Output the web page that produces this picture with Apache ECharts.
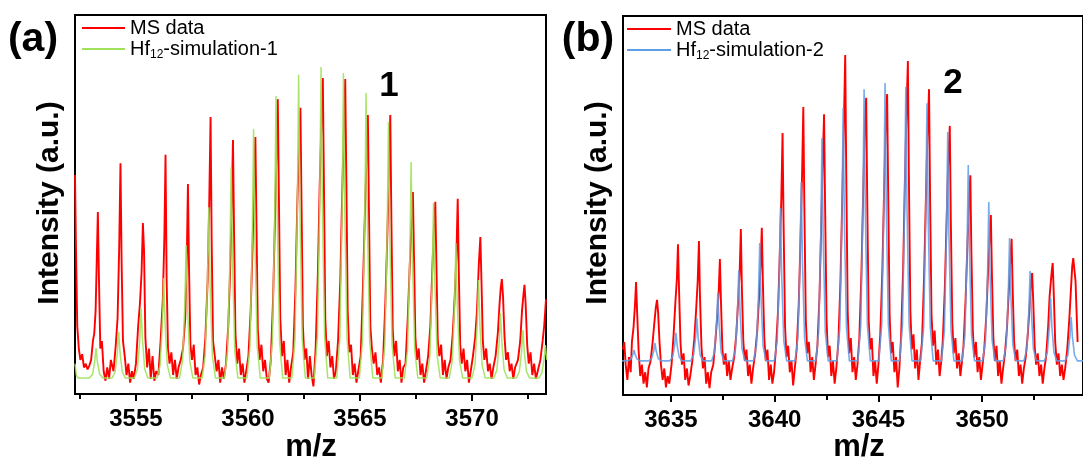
<!DOCTYPE html>
<html><head><meta charset="utf-8">
<script src="https://cdn.jsdelivr.net/npm/echarts@6/dist/echarts.min.js"></script>
<style>html,body{margin:0;padding:0;background:#fff;}#c{width:1083px;height:459px;}</style>
</head><body><div id="c"></div>
<script>
const FONT = '"Liberation Sans", Arial, sans-serif';

// ---- axis ranges and ticks (m/z) ----
const rangeA = [3552.28, 3573.30];
const rangeB = [3632.69, 3654.86];
const ticksA = [3555, 3560, 3565, 3570];
const minorA = [3552.5, 3557.5, 3562.5, 3567.5, 3572.5];
const ticksB = [3635, 3640, 3645, 3650];
const minorB = [3637.5, 3642.5, 3647.5, 3652.5];

const legendA = ['MS data', 'Hf12-simulation-1'];
const legendB = ['MS data', 'Hf12-simulation-2'];

// ---- panel (a): MS data, [m/z, intensity] ----
const msA = [
[3552.28,57.8],[3552.32,40],[3552.38,18],[3552.45,12],[3552.52,9],[3552.6,10.5],[3552.68,7],[3552.76,8],[3552.84,6.5],[3552.92,7.5],[3553.0,9],
[3553.08,14],[3553.14,16],[3553.2,22],[3553.25,35],[3553.3,48],[3553.35,30],[3553.41,12],[3553.48,14],[3553.56,6],[3553.64,3.5],[3553.72,7],[3553.8,4],[3553.88,9],
[3554.0,6],[3554.1,13],[3554.18,20],[3554.25,38],[3554.31,60.9],[3554.36,35],[3554.42,14],[3554.5,10],[3554.58,5],[3554.66,8],[3554.74,3],[3554.82,6],[3554.9,4],
[3555.0,8],[3555.1,18],[3555.18,24],[3555.25,32],[3555.31,45.1],[3555.36,38],[3555.42,15],[3555.5,7],[3555.58,12],[3555.66,4],[3555.74,10],[3555.82,3.5],[3555.9,6],
[3556.0,5],[3556.1,14],[3556.2,25],[3556.27,42],[3556.32,63.1],[3556.37,30],[3556.43,12],[3556.5,8],[3556.58,11],[3556.66,5],[3556.74,9],[3556.82,4],[3556.9,7],
[3557.0,9],[3557.1,12],[3557.2,20],[3557.27,36],[3557.32,55.4],[3557.37,33],[3557.43,13],[3557.5,9],[3557.58,13],[3557.66,5],[3557.74,7],[3557.82,2.5],[3557.9,5],
[3558.0,7],[3558.1,15],[3558.2,30],[3558.27,50],[3558.33,73.1],[3558.38,40],[3558.44,14],[3558.52,10],[3558.6,6],[3558.68,9],[3558.76,3],[3558.84,7],[3558.92,4],
[3559.02,8],[3559.12,18],[3559.2,32],[3559.27,48],[3559.33,67],[3559.38,42],[3559.44,16],[3559.52,8],[3559.6,12],[3559.68,5],[3559.76,8],[3559.84,3],[3559.92,6],
[3560.02,10],[3560.12,22],[3560.2,38],[3560.27,55],[3560.33,67.8],[3560.38,44],[3560.44,17],[3560.52,9],[3560.6,13],[3560.68,6],[3560.76,9],[3560.84,4],[3560.92,3],
[3561.02,9],[3561.12,25],[3561.2,45],[3561.27,62],[3561.33,77.8],[3561.38,52],[3561.44,20],[3561.52,10],[3561.6,14],[3561.68,5],[3561.76,9],[3561.84,3],[3561.92,7],
[3562.02,11],[3562.12,28],[3562.2,50],[3562.28,66],[3562.34,75.5],[3562.39,50],[3562.45,18],[3562.52,9],[3562.6,12],[3562.68,4],[3562.76,10],[3562.84,5],[3562.92,2],
[3563.02,12],[3563.12,32],[3563.2,55],[3563.28,72],[3563.34,83.4],[3563.39,55],[3563.45,20],[3563.52,10],[3563.6,14],[3563.68,7],[3563.76,10],[3563.84,4],[3563.92,6],
[3564.02,14],[3564.12,30],[3564.2,52],[3564.28,70],[3564.34,83.1],[3564.39,56],[3564.45,22],[3564.52,11],[3564.6,13],[3564.68,5],[3564.76,8],[3564.84,3],[3564.92,6],
[3565.03,10],[3565.13,28],[3565.21,46],[3565.29,62],[3565.35,73.6],[3565.4,48],[3565.46,18],[3565.53,12],[3565.61,8],[3565.69,11],[3565.77,5],[3565.85,7],[3565.93,3],
[3566.03,9],[3566.13,24],[3566.21,40],[3566.29,58],[3566.35,73.6],[3566.4,46],[3566.46,17],[3566.53,10],[3566.61,14],[3566.69,6],[3566.77,9],[3566.85,3],[3566.93,7],
[3567.03,8],[3567.13,20],[3567.22,34],[3567.3,45],[3567.36,53.3],[3567.41,36],[3567.47,15],[3567.54,9],[3567.62,12],[3567.7,5],[3567.78,8],[3567.86,3],[3567.94,6],
[3568.04,10],[3568.14,18],[3568.22,32],[3568.3,44],[3568.36,50.7],[3568.41,34],[3568.47,14],[3568.54,10],[3568.62,13],[3568.7,5],[3568.78,9],[3568.86,4],[3568.94,7],
[3569.04,9],[3569.14,16],[3569.22,25],[3569.3,36],[3569.36,51.5],[3569.41,32],[3569.47,13],[3569.54,8],[3569.62,12],[3569.7,6],[3569.78,9],[3569.86,3],[3569.94,6],
[3570.04,10],[3570.14,15],[3570.22,22],[3570.3,34],[3570.37,41.4],[3570.42,30],[3570.48,14],[3570.55,9],[3570.63,12],[3570.71,6],[3570.79,8],[3570.87,4],[3570.95,7],
[3571.05,10],[3571.15,16],[3571.23,24],[3571.28,28],[3571.33,30.3],[3571.38,26],[3571.45,15],[3571.52,9],[3571.6,11],[3571.68,6],[3571.76,8],[3571.84,4],[3571.92,7],
[3572.05,9],[3572.15,14],[3572.23,22],[3572.29,26],[3572.34,28.8],[3572.39,24],[3572.46,13],[3572.53,8],[3572.61,11],[3572.69,5],[3572.77,8],[3572.85,4],[3572.93,6],
[3573.05,9],[3573.15,14],[3573.22,18],[3573.3,25]
];

// ---- panel (a): simulation 1 ----
const simA = [
[3552.28,8],[3552.34,5],[3552.42,4.2],
[3552.92,4.2],[3553.06,5.2],[3553.16,8.5],[3553.22,12.1],[3553.28,8.5],[3553.38,5.2],[3553.52,4.2],
[3553.93,4.2],[3554.07,5.8],[3554.17,10.9],[3554.23,16.4],[3554.29,10.9],[3554.39,5.8],[3554.53,4.2],
[3554.93,4.2],[3555.07,6.6],[3555.17,14.4],[3555.23,22.7],[3555.29,14.4],[3555.39,6.6],[3555.53,4.2],
[3555.94,4.2],[3556.08,7.6],[3556.18,18.7],[3556.24,30.6],[3556.3,18.7],[3556.4,7.6],[3556.54,4.2],
[3556.94,4.2],[3557.08,8.8],[3557.18,23.5],[3557.24,39.3],[3557.3,23.5],[3557.4,8.8],[3557.54,4.2],
[3557.95,4.2],[3558.09,10.1],[3558.19,29],[3558.25,49.3],[3558.31,29],[3558.41,10.1],[3558.55,4.2],
[3558.95,4.2],[3559.09,11.4],[3559.19,34.8],[3559.25,59.9],[3559.31,34.8],[3559.41,11.4],[3559.55,4.2],
[3559.95,4.2],[3560.09,12.7],[3560.19,40.3],[3560.25,69.9],[3560.31,40.3],[3560.41,12.7],[3560.55,4.2],
[3560.95,4.2],[3561.09,13.9],[3561.19,45.1],[3561.25,78.6],[3561.31,45.1],[3561.41,13.9],[3561.55,4.2],
[3561.96,4.2],[3562.1,14.6],[3562.2,48.2],[3562.26,84.2],[3562.32,48.2],[3562.42,14.6],[3562.56,4.2],
[3562.96,4.2],[3563.1,14.9],[3563.2,49.4],[3563.26,86.3],[3563.32,49.4],[3563.42,14.9],[3563.56,4.2],
[3563.96,4.2],[3564.1,14.7],[3564.2,48.5],[3564.26,84.7],[3564.32,48.5],[3564.42,14.7],[3564.56,4.2],
[3564.97,4.2],[3565.11,14],[3565.21,45.6],[3565.27,79.4],[3565.33,45.6],[3565.43,14],[3565.57,4.2],
[3565.97,4.2],[3566.11,13],[3566.21,41.4],[3566.27,71.8],[3566.33,41.4],[3566.43,13],[3566.57,4.2],
[3566.98,4.2],[3567.12,11.6],[3567.22,35.6],[3567.28,61.2],[3567.34,35.6],[3567.44,11.6],[3567.58,4.2],
[3567.98,4.2],[3568.12,10.2],[3568.22,29.6],[3568.28,50.4],[3568.34,29.6],[3568.44,10.2],[3568.58,4.2],
[3568.98,4.2],[3569.12,8.8],[3569.22,23.8],[3569.28,39.8],[3569.34,23.8],[3569.44,8.8],[3569.58,4.2],
[3569.99,4.2],[3570.13,7.6],[3570.23,18.4],[3570.29,30.1],[3570.35,18.4],[3570.45,7.6],[3570.59,4.2],
[3570.97,4.2],[3571.11,6.4],[3571.21,13.7],[3571.27,21.4],[3571.33,13.7],[3571.43,6.4],[3571.57,4.2],
[3571.97,4.2],[3572.11,5.9],[3572.21,11.2],[3572.27,16.9],[3572.33,11.2],[3572.43,5.9],[3572.57,4.2],
[3572.97,4.2],[3573.11,5.4],[3573.21,9],[3573.27,12.9],[3573.33,9]
];

// ---- panel (b): MS data ----
const msB = [
[3632.69,12],[3632.75,14],[3632.82,8],[3632.9,4],[3632.98,10],[3633.06,6],[3633.12,14],[3633.2,18],[3633.27,24],[3633.32,29.8],[3633.37,22],[3633.44,12],[3633.52,5],[3633.6,8],[3633.68,3],[3633.76,6],[3633.84,2],[3633.92,7],
[3634.02,9],[3634.12,14],[3634.2,19],[3634.27,23],[3634.33,25.1],[3634.38,22],[3634.45,14],[3634.52,8],[3634.6,4],[3634.68,7],[3634.76,2],[3634.84,5],[3634.92,3],
[3635.03,8],[3635.13,16],[3635.21,24],[3635.29,31],[3635.34,39.8],[3635.39,28],[3635.46,14],[3635.53,8],[3635.61,11],[3635.69,4],[3635.77,7],[3635.85,2.5],[3635.93,5],
[3636.03,9],[3636.13,15],[3636.21,22],[3636.29,30],[3636.35,40.6],[3636.4,26],[3636.47,13],[3636.54,7],[3636.62,10],[3636.7,3],[3636.78,6],[3636.86,1.8],[3636.94,6],
[3637.04,8],[3637.14,14],[3637.22,20],[3637.3,27],[3637.36,35.9],[3637.41,25],[3637.48,12],[3637.55,8],[3637.63,11],[3637.71,5],[3637.79,9],[3637.87,4],[3637.95,7],
[3638.05,10],[3638.15,16],[3638.23,24],[3638.31,32],[3638.37,43.8],[3638.42,28],[3638.49,14],[3638.56,9],[3638.64,12],[3638.72,5],[3638.8,8],[3638.88,3],[3638.96,7],
[3639.06,11],[3639.16,17],[3639.24,25],[3639.32,34],[3639.38,44.1],[3639.43,30],[3639.5,15],[3639.57,9],[3639.65,12],[3639.73,4],[3639.81,8],[3639.89,3],[3639.97,6],
[3640.06,12],[3640.16,22],[3640.24,36],[3640.32,52],[3640.38,69.1],[3640.43,45],[3640.5,18],[3640.57,10],[3640.65,13],[3640.73,6],[3640.81,9],[3640.89,2.5],[3640.97,7],
[3641.06,12],[3641.16,24],[3641.24,40],[3641.32,58],[3641.38,76],[3641.43,50],[3641.5,20],[3641.57,11],[3641.65,14],[3641.73,6],[3641.81,10],[3641.89,4],[3641.97,8],
[3642.06,13],[3642.16,26],[3642.24,44],[3642.32,62],[3642.38,74.1],[3642.43,50],[3642.5,20],[3642.57,10],[3642.65,13],[3642.73,5],[3642.81,9],[3642.89,3],[3642.97,7],
[3643.07,14],[3643.17,30],[3643.25,50],[3643.33,70],[3643.4,89.7],[3643.45,58],[3643.52,22],[3643.59,11],[3643.67,15],[3643.75,6],[3643.83,10],[3643.91,4],[3643.99,8],
[3644.08,15],[3644.18,32],[3644.26,52],[3644.34,70],[3644.41,78.4],[3644.46,52],[3644.53,20],[3644.6,12],[3644.68,15],[3644.76,5],[3644.84,9],[3644.92,3],[3645.0,8],
[3645.09,16],[3645.19,33],[3645.27,53],[3645.35,71],[3645.42,79.4],[3645.47,54],[3645.54,21],[3645.61,11],[3645.69,14],[3645.77,6],[3645.85,10],[3645.93,2],[3646.01,7],
[3646.09,15],[3646.19,33],[3646.27,55],[3646.35,74],[3646.42,88.1],[3646.47,57],[3646.54,22],[3646.61,12],[3646.69,16],[3646.77,7],[3646.85,12],[3646.93,4],[3647.01,9],
[3647.1,14],[3647.2,31],[3647.28,50],[3647.36,68],[3647.44,80.7],[3647.49,52],[3647.56,21],[3647.63,13],[3647.71,17],[3647.79,8],[3647.87,12],[3647.95,5],[3648.03,9],
[3648.1,14],[3648.2,28],[3648.28,45],[3648.36,61],[3648.44,71],[3648.49,46],[3648.56,19],[3648.63,11],[3648.71,15],[3648.79,7],[3648.87,11],[3648.95,5],[3649.03,9],
[3649.1,13],[3649.2,25],[3649.28,38],[3649.36,50],[3649.43,58],[3649.48,38],[3649.55,17],[3649.62,10],[3649.7,14],[3649.78,6],[3649.86,10],[3649.94,4],[3650.02,8],
[3650.1,12],[3650.2,21],[3650.28,32],[3650.36,42],[3650.42,47.5],[3650.47,32],[3650.54,15],[3650.61,9],[3650.69,13],[3650.77,5],[3650.85,9],[3650.93,3],[3651.01,7],
[3651.1,11],[3651.2,18],[3651.28,27],[3651.36,36],[3651.42,41.2],[3651.47,28],[3651.54,14],[3651.61,9],[3651.69,12],[3651.77,5],[3651.85,8],[3651.93,3],[3652.01,7],
[3652.1,10],[3652.2,16],[3652.28,23],[3652.35,29],[3652.41,32.2],[3652.46,25],[3652.53,13],[3652.6,8],[3652.68,11],[3652.76,5],[3652.84,8],[3652.92,3],[3653.0,7],
[3653.08,10],[3653.18,18],[3653.25,26],[3653.31,30],[3653.36,33],[3653.4,34.8],[3653.45,27],[3653.52,14],[3653.6,8],[3653.68,11],[3653.76,5],[3653.84,8],[3653.92,4],[3654.0,7],
[3654.1,12],[3654.2,20],[3654.28,28],[3654.34,34],[3654.39,36.1],[3654.5,30],[3654.6,14]
];

// ---- panel (b): simulation 2 ----
const simB = [
[3632.64,9],
[3632.92,9],[3633.06,9.4],[3633.16,10.6],[3633.22,11.9],[3633.28,10.6],[3633.38,9.4],[3633.52,9],
[3633.93,9],[3634.07,9.6],[3634.17,11.6],[3634.23,13.7],[3634.29,11.6],[3634.39,9.6],[3634.53,9],
[3634.94,9],[3635.08,10],[3635.18,13.1],[3635.24,16.4],[3635.3,13.1],[3635.4,10],[3635.54,9],
[3635.95,9],[3636.09,10.5],[3636.19,15.2],[3636.25,20.3],[3636.31,15.2],[3636.41,10.5],[3636.55,9],
[3636.96,9],[3637.1,11.3],[3637.2,18.9],[3637.26,27],[3637.32,18.9],[3637.42,11.3],[3637.56,9],
[3637.97,9],[3638.11,12.1],[3638.21,22.2],[3638.27,33],[3638.33,22.2],[3638.43,12.1],[3638.57,9],
[3638.98,9],[3639.12,13],[3639.22,26.1],[3639.28,40.1],[3639.34,26.1],[3639.44,13],[3639.58,9],
[3639.98,9],[3640.12,14.2],[3640.22,31.2],[3640.28,49.3],[3640.34,31.2],[3640.44,14.2],[3640.58,9],
[3640.98,9],[3641.12,15.1],[3641.22,35],[3641.28,56.2],[3641.34,35],[3641.44,15.1],[3641.58,9],
[3641.98,9],[3642.12,16.6],[3642.22,41.3],[3642.28,67.8],[3642.34,41.3],[3642.44,16.6],[3642.58,9],
[3643.0,9],[3643.14,17.7],[3643.24,45.7],[3643.3,75.7],[3643.36,45.7],[3643.46,17.7],[3643.6,9],
[3644.01,9],[3644.15,18.3],[3644.25,48.4],[3644.31,80.7],[3644.37,48.4],[3644.47,18.3],[3644.61,9],
[3645.02,9],[3645.16,18.5],[3645.26,49.3],[3645.32,82.3],[3645.38,49.3],[3645.48,18.5],[3645.62,9],
[3646.02,9],[3646.16,18.4],[3646.26,48.8],[3646.32,81.3],[3646.38,48.8],[3646.48,18.4],[3646.62,9],
[3647.04,9],[3647.18,17.8],[3647.28,46.4],[3647.34,77],[3647.4,46.4],[3647.5,17.8],[3647.64,9],
[3648.04,9],[3648.18,16.9],[3648.28,42.2],[3648.34,69.4],[3648.4,42.2],[3648.5,16.9],[3648.64,9],
[3649.03,9],[3649.17,15.7],[3649.27,37.4],[3649.33,60.7],[3649.39,37.4],[3649.49,15.7],[3649.63,9],
[3650.02,9],[3650.16,14.4],[3650.26,32],[3650.32,50.9],[3650.38,32],[3650.48,14.4],[3650.62,9],
[3651.02,9],[3651.16,13.2],[3651.26,26.8],[3651.32,41.4],[3651.38,26.8],[3651.48,13.2],[3651.62,9],
[3652.01,9],[3652.15,12.1],[3652.25,22],[3652.31,32.7],[3652.37,22],[3652.47,12.1],[3652.61,9],
[3653.0,9],[3653.14,11.2],[3653.24,18.1],[3653.3,25.6],[3653.36,18.1],[3653.46,11.2],[3653.6,9],
[3653.99,9],[3654.13,10.5],[3654.23,15.4],[3654.29,20.6],[3654.35,15.4],[3654.45,10.5],[3654.59,9],[3654.9,9]
];

// ---- styling ----
const RED = '#ff0000';
const GREEN = '#9fe25a';
const BLUE = '#5f9de6';

function legendFmt(name) {
  if (name.indexOf('Hf12') === 0) return '{t|Hf}{s|12}{t|' + name.slice(4) + '}';
  return '{t|' + name + '}';
}
const legendText = {
  rich: {
    t: {fontSize: 20, fontFamily: FONT, color: '#000', lineHeight: 24},
    s: {fontSize: 12, fontFamily: FONT, color: '#000', lineHeight: 9, verticalAlign: 'bottom'}
  }
};

function xMain(grid, range, ticks) {
  return {
    gridIndex: grid, type: 'value', min: range[0], max: range[1], position: 'bottom',
    axisLine: {show: true, onZero: false, lineStyle: {color: '#000', width: 2}},
    splitLine: {show: false},
    axisTick: {show: true, customValues: ticks, length: 7, inside: false, lineStyle: {color: '#000', width: 2}},
    axisLabel: {show: true, customValues: ticks, margin: 13, color: '#000', fontSize: 24, fontWeight: 'bold', fontFamily: FONT,
                formatter: function (v) { return String(Math.round(v)); }}
  };
}
function xMinor(grid, range, ticks) {
  return {
    gridIndex: grid, type: 'value', min: range[0], max: range[1], position: 'bottom', offset: 0,
    axisLine: {show: true, onZero: false, lineStyle: {color: '#000', width: 2}},
    splitLine: {show: false},
    axisTick: {show: true, customValues: ticks, length: 5, inside: false, lineStyle: {color: '#000', width: 2}},
    axisLabel: {show: false}
  };
}
function txt(x, y, text, font, rot) {
  return {
    type: 'text', x: x, y: y, rotation: rot || 0, silent: true,
    style: {text: text, font: font, fill: '#000', align: 'center', verticalAlign: 'middle',
            textAlign: 'center', textVerticalAlign: 'middle'}
  };
}

const chart = echarts.init(document.getElementById('c'), null, {renderer: 'canvas'});
chart.setOption({
  animation: false,
  backgroundColor: '#fff',
  grid: [
    {left: 75, top: 15, width: 471, height: 379, show: true, borderColor: '#000', borderWidth: 2, backgroundColor: 'transparent'},
    {left: 623, top: 16, width: 470, height: 379, show: true, borderColor: '#000', borderWidth: 2, backgroundColor: 'transparent'}
  ],
  xAxis: [
    xMain(0, rangeA, ticksA), xMinor(0, rangeA, minorA),
    xMain(1, rangeB, ticksB), xMinor(1, rangeB, minorB)
  ],
  yAxis: [
    {gridIndex: 0, type: 'value', min: 0, max: 100, show: false},
    {gridIndex: 1, type: 'value', min: 0, max: 100, show: false}
  ],
  legend: [
    {left: 82, top: 18, orient: 'vertical', padding: 0, itemWidth: 43, itemHeight: 2, itemGap: 1, icon: 'rect',
     selectedMode: false, data: legendA, formatter: legendFmt, textStyle: legendText},
    {left: 627, top: 19, orient: 'vertical', padding: 0, itemWidth: 44, itemHeight: 2, itemGap: 1, icon: 'rect',
     selectedMode: false, data: legendB, formatter: legendFmt, textStyle: legendText}
  ],
  series: [
    {name: 'MS data', type: 'line', xAxisIndex: 0, yAxisIndex: 0, data: msA, symbol: 'none', z: 2,
     lineStyle: {color: RED, width: 1.9}, itemStyle: {color: RED}},
    {name: 'Hf12-simulation-1', type: 'line', xAxisIndex: 0, yAxisIndex: 0, data: simA, symbol: 'none', z: 3,
     lineStyle: {color: GREEN, width: 1.5, opacity: 0.9}, itemStyle: {color: GREEN}},
    {name: 'MS data', type: 'line', xAxisIndex: 2, yAxisIndex: 1, data: msB, symbol: 'none', z: 2,
     lineStyle: {color: RED, width: 1.9}, itemStyle: {color: RED}},
    {name: 'Hf12-simulation-2', type: 'line', xAxisIndex: 2, yAxisIndex: 1, data: simB, symbol: 'none', z: 3,
     lineStyle: {color: BLUE, width: 1.6, opacity: 0.85}, itemStyle: {color: BLUE}}
  ],
  graphic: [
    txt(33, 40, '(a)', 'bold 41px ' + FONT),
    txt(588, 40, '(b)', 'bold 41px ' + FONT),
    txt(389, 86, '1', 'bold 35px ' + FONT),
    txt(953, 83, '2', 'bold 35px ' + FONT),
    txt(311, 447, 'm/z', 'bold 31px ' + FONT),
    txt(859, 447, 'm/z', 'bold 31px ' + FONT),
    txt(50, 203, 'Intensity (a.u.)', 'bold 30px ' + FONT, Math.PI / 2),
    txt(598, 203, 'Intensity (a.u.)', 'bold 30px ' + FONT, Math.PI / 2)
  ]
});
</script>
</body></html>
